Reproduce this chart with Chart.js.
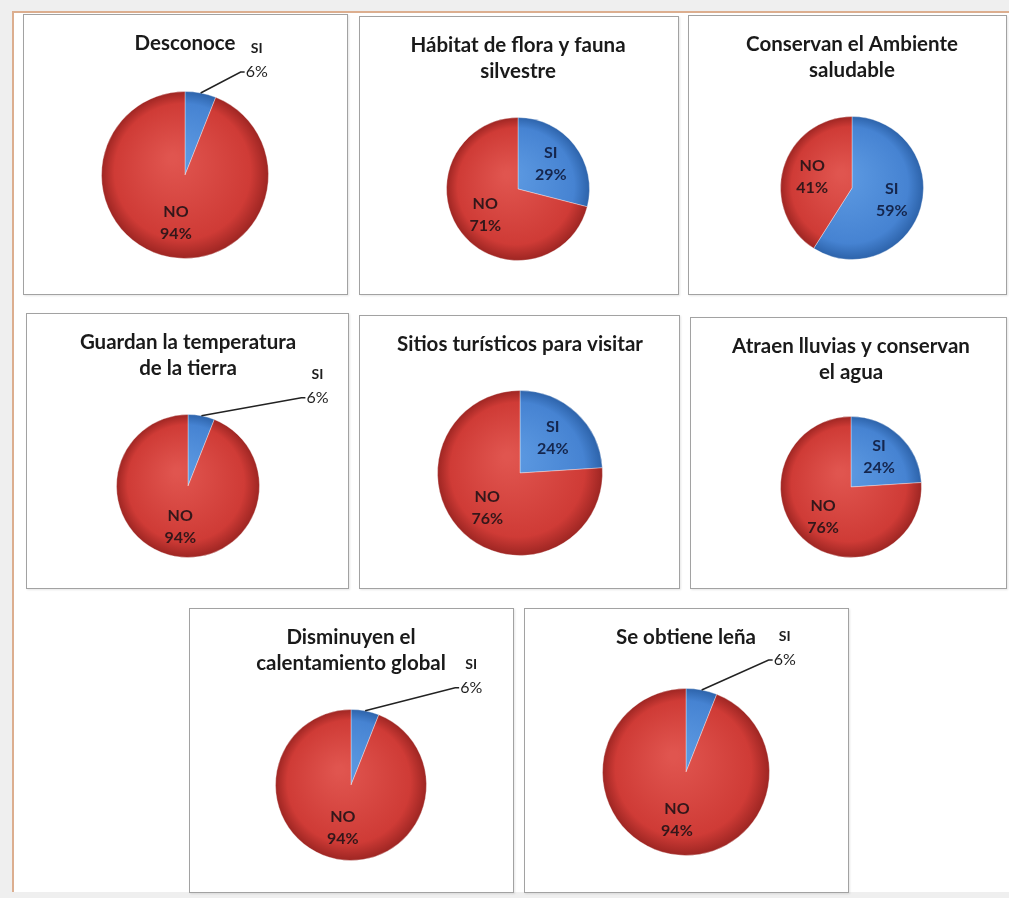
<!DOCTYPE html>
<html><head><meta charset="utf-8">
<script src="https://cdn.jsdelivr.net/npm/chart.js@4.4.0/dist/chart.umd.min.js"></script>
<style>
html,body{margin:0;padding:0;}
body{width:1009px;height:898px;background:#efefef;position:relative;overflow:hidden;font-family:Lato,sans-serif;}
#sheet{position:absolute;left:12px;top:11px;width:997px;height:881px;background:#fff;border-left:2px solid #dcae8f;border-top:2px solid #dcae8f;box-sizing:border-box;}
.panel{position:absolute;background:#fff;}
.panel canvas{position:absolute;left:0;top:0;}
.frame{position:absolute;left:0;top:0;right:0;bottom:0;border:1.5px solid #a2a2a2;box-sizing:border-box;pointer-events:none;box-shadow:1px 1px 2px rgba(0,0,0,0.10);}
</style></head><body>
<div id="sheet"></div>
<script>
// ---- data ----
const categories = ["SI", "NO"];
const chartTitles = [
  ["Desconoce"],
  ["Hábitat de flora y fauna", "silvestre"],
  ["Conservan el Ambiente", "saludable"],
  ["Guardan la temperatura", "de la tierra"],
  ["Sitios turísticos para visitar"],
  ["Atraen lluvias y conservan", "el agua"],
  ["Disminuyen el", "calentamiento global"],
  ["Se obtiene leña"]
];
const siValues = [6, 29, 59, 6, 24, 24, 6, 6];
const noValues = [94, 71, 41, 94, 76, 76, 94, 94];

// ---- layout (positions / sizes only) ----
const panelBoxes = [
  [23, 14, 325, 281], [359, 16, 320, 279], [688, 15, 319, 280],
  [26, 313, 323, 276], [359, 315, 321, 274], [690, 317, 317, 272],
  [189, 608, 325, 285], [524, 608, 325, 285]
];
const pieGeom = [
  [185, 175, 84], [518, 189, 72], [852, 188, 72],
  [188, 486, 72], [520, 473, 83], [851, 487, 71],
  [351, 785, 76], [686, 772, 84]
];
const leaderOffsets = [[40, -21], null, null, [100, -18], null, null, [90, -23], [67, -30]];

// ---- style ----
const palettes = {
  SI: ['#5d9ae2', '#4683d2', '#2c62a9'],
  NO: ['#e0554f', '#cf3b36', '#9c2522']
};
const labelColors = { SI: '#15264d', NO: '#33171a' };

function sliceFill(ctx) {
  const chart = ctx.chart;
  const area = chart.chartArea;
  const cat = chart.data.labels[ctx.dataIndex];
  const p = palettes[cat];
  if (!area) return p[1];
  const cx = (area.left + area.right) / 2, cy = (area.top + area.bottom) / 2;
  const R = Math.min(area.width, area.height) / 2;
  const g = chart.ctx.createRadialGradient(cx - R * 0.15, cy - R * 0.2, R * 0.05, cx, cy, R);
  g.addColorStop(0, p[0]);
  g.addColorStop(0.8, p[1]);
  g.addColorStop(1, p[2]);
  return g;
}

const sliceLabels = {
  id: 'sliceLabels',
  afterDatasetsDraw(chart, args, opts) {
    const ctx = chart.ctx;
    const meta = chart.getDatasetMeta(0);
    const data = chart.data.datasets[0].data;
    const total = data.reduce((a, b) => a + b, 0);
    ctx.save();
    meta.data.forEach((arc, i) => {
      const p = arc.getProps(['x', 'y', 'startAngle', 'endAngle', 'outerRadius'], true);
      const mid = (p.startAngle + p.endAngle) / 2;
      const name = chart.data.labels[i];
      const pct = Math.round(data[i] / total * 100) + '%';
      if (data[i] / total < 0.1 && opts.leader) {
        const ex = p.x + Math.cos(mid) * p.outerRadius;
        const ey = p.y + Math.sin(mid) * p.outerRadius;
        const tx = ex + opts.leader[0], ty = ey + opts.leader[1];
        ctx.strokeStyle = '#222';
        ctx.lineWidth = 1.5;
        ctx.beginPath();
        ctx.moveTo(ex, ey);
        ctx.lineTo(tx, ty);
        ctx.lineTo(tx + 4, ty);
        ctx.stroke();
        ctx.fillStyle = '#1e1e1e';
        ctx.textBaseline = 'middle';
        ctx.textAlign = 'left';
        ctx.font = 'normal 16px Lato';
        const w = ctx.measureText(pct).width;
        ctx.fillText(pct, tx + 5, ty);
        ctx.textAlign = 'center';
        ctx.font = 'bold 14px Lato';
        ctx.fillText(name, tx + 5 + w / 2, ty - 23);
      } else {
        const lx = p.x + Math.cos(mid) * p.outerRadius * 0.58;
        const ly = p.y + Math.sin(mid) * p.outerRadius * 0.58;
        ctx.fillStyle = labelColors[name];
        ctx.textAlign = 'center';
        ctx.textBaseline = 'middle';
        ctx.font = 'bold 16px Lato';
        ctx.fillText(name, lx, ly - 11);
        ctx.fillText(pct, lx, ly + 11);
      }
    });
    ctx.restore();
  }
};

const TITLE_SIZE = 20.5, TITLE_LH = 1.28;
const TITLE_TOP = 29 - TITLE_SIZE * TITLE_LH / 2;

panelBoxes.forEach((box, i) => {
  const [px, py, pw, ph] = box;
  const [cx, cy, r] = pieGeom[i];
  const div = document.createElement('div');
  div.className = 'panel';
  div.style.left = px + 'px'; div.style.top = py + 'px';
  div.style.width = pw + 'px'; div.style.height = ph + 'px';
  const cv = document.createElement('canvas');
  cv.width = pw; cv.height = ph;
  cv.style.width = pw + 'px'; cv.style.height = ph + 'px';
  div.appendChild(cv);
  const frame = document.createElement('div');
  frame.className = 'frame';
  div.appendChild(frame);
  document.body.appendChild(div);

  const rcx = cx - px, rcy = cy - py;
  const lines = chartTitles[i].length;
  const chartTop = rcy - r;
  const titleBottom = chartTop - TITLE_TOP - lines * TITLE_SIZE * TITLE_LH;
  // symmetric horizontal padding so the pie (and title) centre sits at rcx
  const padL = Math.max(0, 2 * rcx - pw);
  const padR = Math.max(0, pw - 2 * rcx);

  new Chart(cv, {
    type: 'pie',
    data: {
      labels: categories,
      datasets: [{
        data: [siValues[i], noValues[i]],
        backgroundColor: sliceFill,
        borderColor: 'rgba(255,255,255,0.35)',
        borderWidth: 1
      }]
    },
    options: {
      responsive: false,
      animation: false,
      devicePixelRatio: 1,
      layout: { padding: { left: padL, right: padR, top: 0, bottom: ph - (rcy + r) } },
      plugins: {
        legend: { display: false },
        tooltip: { enabled: false },
        title: {
          display: true,
          text: chartTitles[i],
          color: '#1a1a1a',
          font: { family: 'Lato', size: TITLE_SIZE, weight: 'bold', lineHeight: TITLE_LH },
          padding: { top: TITLE_TOP, bottom: titleBottom }
        },
        sliceLabels: { leader: leaderOffsets[i] }
      }
    },
    plugins: [sliceLabels]
  });
});
</script>
</body></html>
